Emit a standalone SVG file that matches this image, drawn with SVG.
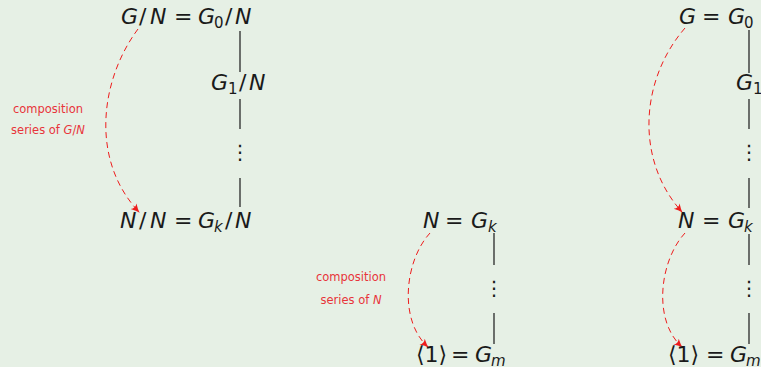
<svg xmlns="http://www.w3.org/2000/svg" width="761" height="367" viewBox="0 0 761 367">
<style>
.m{font-family:"DejaVu Sans","Liberation Sans",sans-serif;font-size:22px;fill:#1a1a1a}
.i{font-style:italic}
.s{font-size:15px}
.dt{font-family:"DejaVu Sans",sans-serif;font-size:20px;fill:#1a1a1a;text-anchor:middle}
.lab{font-family:"DejaVu Sans","Liberation Sans",sans-serif;font-size:11.5px;fill:#e8343a;text-anchor:middle}
.v{stroke:#1a1a1a;stroke-width:1.2;fill:none}
.c{stroke:#ee1c1c;stroke-width:1;fill:none;stroke-dasharray:6 4;marker-end:url(#ah)}
</style>
<defs>
<marker id="ah" viewBox="0 0 10 10" refX="8" refY="5" markerWidth="10" markerHeight="10" markerUnits="userSpaceOnUse" orient="auto">
<path d="M0,1 Q5,4 9,5 Q5,6 0,9 Q3,5 0,1 Z" fill="#ee1c1c"/>
</marker>
</defs>
<rect width="761" height="367" fill="#e6f0e5"/>
<g id="connectors">
<path class="v" d="M240,31V72M240,99V129M240,178V207"/>
<path class="v" d="M494,233V265M494,313V344"/>
<path class="v" d="M749,30V73M749,99V129M749,178V208M749,234V265M749,313V344"/>
<path class="c" d="M138,29C100,80 90,160 139,212"/>
<path class="c" d="M430,233C405,260 398,320 428,347"/>
<path class="c" d="M685,28C640,80 635,160 682,212"/>
<path class="c" d="M685,233C660,260 652,320 682,347"/>
</g>
<g id="n-GN">
<text class="m" y="24"><tspan class="i" x="121">G</tspan><tspan x="139">/</tspan><tspan class="i" x="150">N</tspan><tspan x="174">=</tspan><tspan class="i" x="198">G</tspan><tspan class="s" x="214" y="28">0</tspan><tspan x="225" y="24">/</tspan><tspan class="i" x="235">N</tspan></text>
</g>
<g id="n-G1N">
<text class="m" y="90"><tspan class="i" x="211">G</tspan><tspan class="s" x="228" y="94">1</tspan><tspan x="239" y="90">/</tspan><tspan class="i" x="249">N</tspan></text>
</g>
<g id="n-dots1"><text class="dt" x="240" y="159">⋮</text></g>
<g id="n-NN">
<text class="m" y="228"><tspan class="i" x="120">N</tspan><tspan x="139">/</tspan><tspan class="i" x="150">N</tspan><tspan x="174">=</tspan><tspan class="i" x="198">G</tspan><tspan class="s i" x="214" y="232">k</tspan><tspan x="225" y="228">/</tspan><tspan class="i" x="235">N</tspan></text>
</g>
<g id="n-lab1">
<text class="lab" x="48" y="113">composition</text>
<text class="lab" x="48" y="134">series of <tspan class="i">G</tspan>/<tspan class="i">N</tspan></text>
</g>
<g id="n-N">
<text class="m" y="228"><tspan class="i" x="423">N</tspan><tspan x="445">=</tspan><tspan class="i" x="471">G</tspan><tspan class="s i" x="488" y="232">k</tspan></text>
</g>
<g id="n-dots2"><text class="dt" x="494" y="295">⋮</text></g>
<g id="n-1">
<text class="m" y="362"><tspan x="416">⟨1⟩</tspan><tspan x="451">=</tspan><tspan class="i" x="475">G</tspan><tspan class="s i" x="491" y="366">m</tspan></text>
</g>
<g id="n-lab2">
<text class="lab" x="351" y="281">composition</text>
<text class="lab" x="351" y="304">series of <tspan class="i">N</tspan></text>
</g>
<g id="n-G">
<text class="m" y="24"><tspan class="i" x="679">G</tspan><tspan x="702">=</tspan><tspan class="i" x="728">G</tspan><tspan class="s" x="744" y="28">0</tspan></text>
</g>
<g id="n-G1">
<text class="m" y="90"><tspan class="i" x="736">G</tspan><tspan class="s" x="753" y="94">1</tspan></text>
</g>
<g id="n-dots3"><text class="dt" x="749" y="159">⋮</text></g>
<g id="n-Nr">
<text class="m" y="228"><tspan class="i" x="678">N</tspan><tspan x="702">=</tspan><tspan class="i" x="728">G</tspan><tspan class="s i" x="744" y="232">k</tspan></text>
</g>
<g id="n-dots4"><text class="dt" x="749" y="295">⋮</text></g>
<g id="n-1r">
<text class="m" y="362"><tspan x="668">⟨1⟩</tspan><tspan x="706">=</tspan><tspan class="i" x="730">G</tspan><tspan class="s i" x="746" y="366">m</tspan></text>
</g>
</svg>
